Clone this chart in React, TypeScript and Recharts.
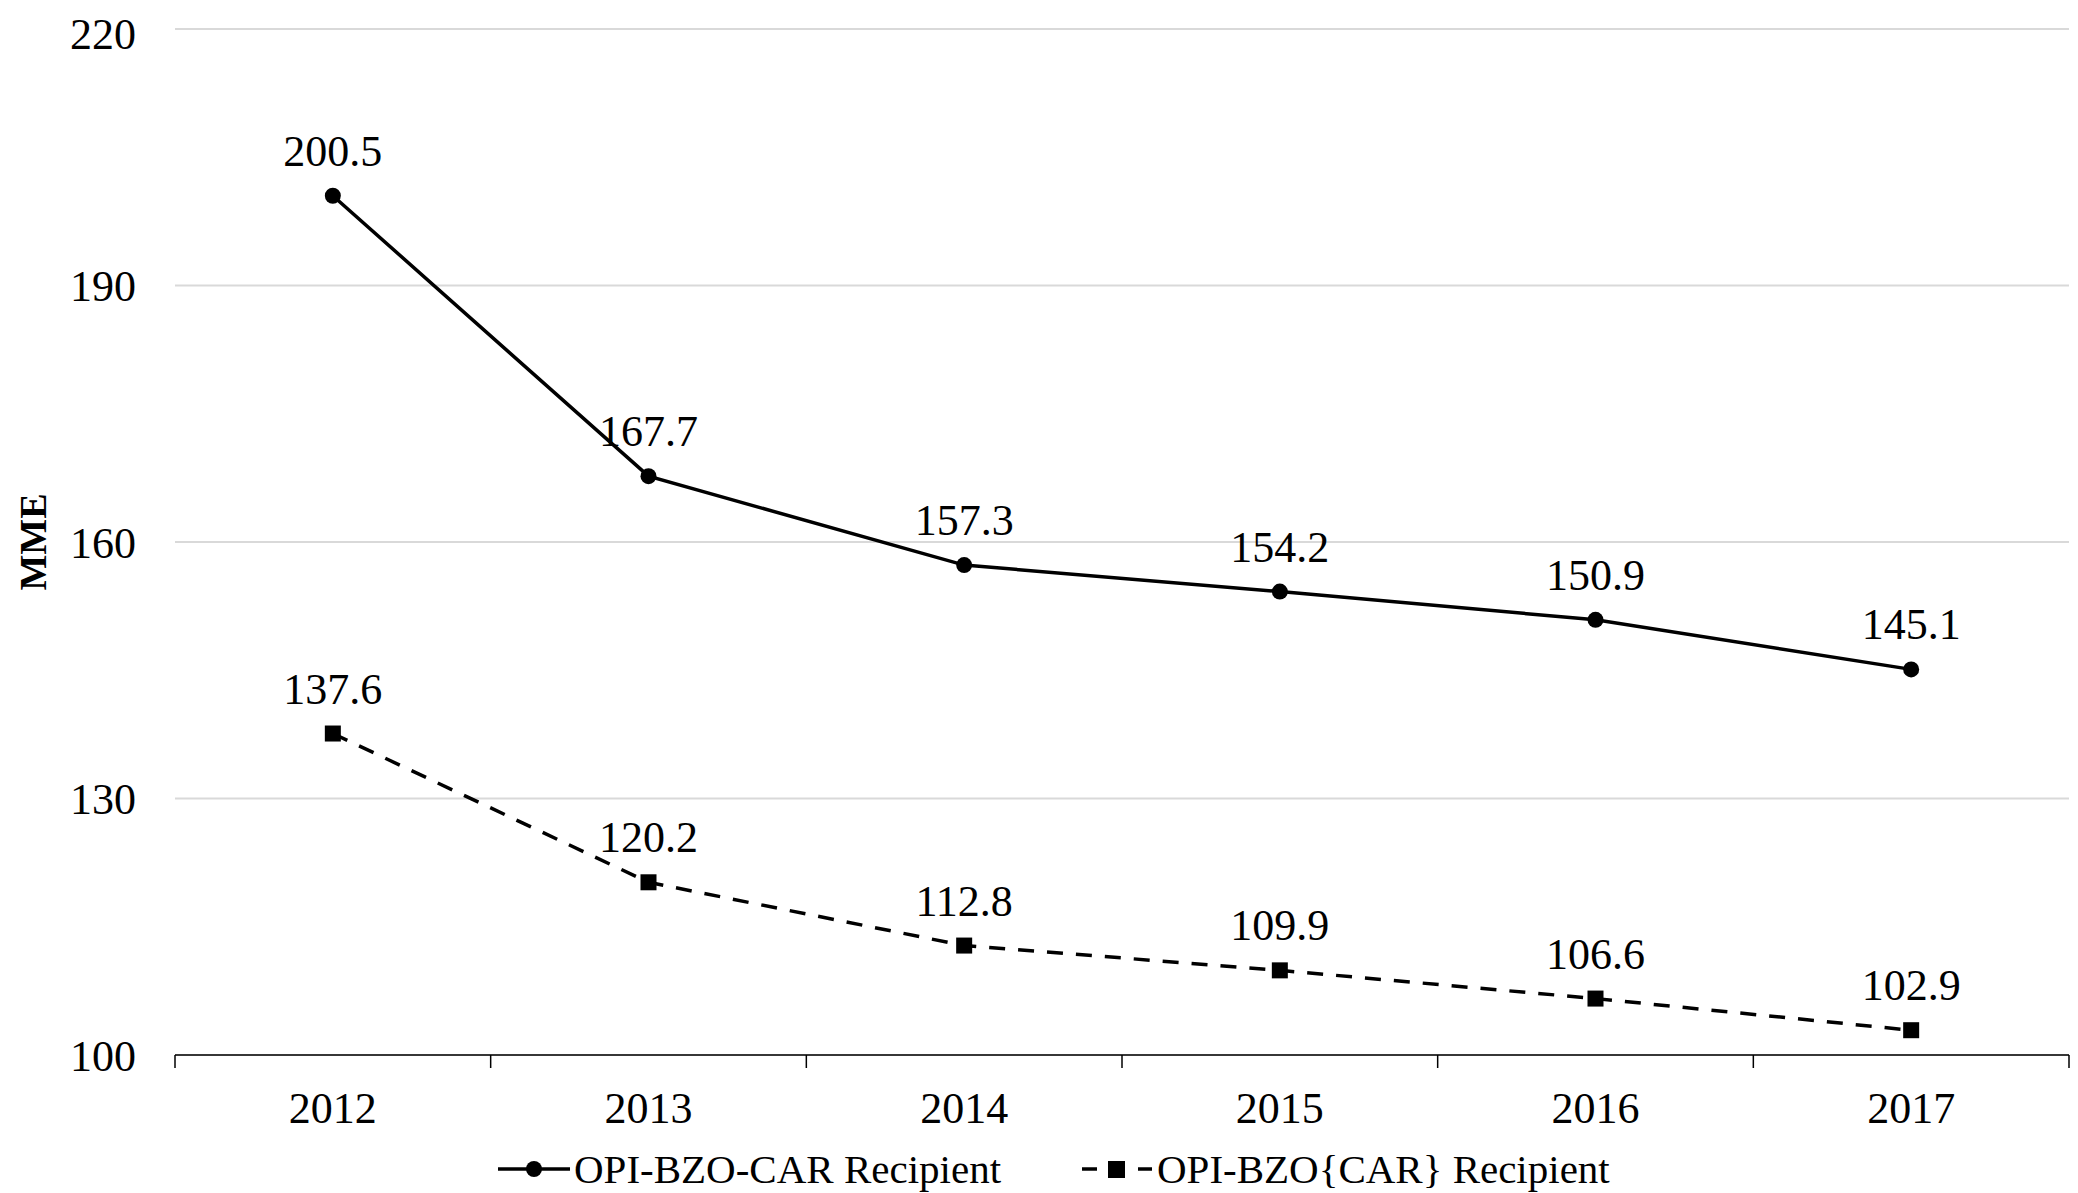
import { LineChart, Line, XAxis, YAxis, CartesianGrid, LabelList, Legend } from 'recharts'

// values
const years = ['2012', '2013', '2014', '2015', '2016', '2017']
const carRecipient = [200.5, 167.7, 157.3, 154.2, 150.9, 145.1]
const nonCarRecipient = [137.6, 120.2, 112.8, 109.9, 106.6, 102.9]
const yTicks = [100, 130, 160, 190, 220]

const seriesNames = ['OPI-BZO-CAR Recipient', 'OPI-BZO{CAR} Recipient']

const data = years.map((year, i) => ({
  year,
  car: carRecipient[i],
  nonCar: nonCarRecipient[i],
}))

const FONT = '"Liberation Serif", "DejaVu Serif", serif'
const NUM_SIZE = 44
const CHART_W = 2064
const CHART_H = 1185
const LEGEND_H = 48
const MARGIN = { top: 21, right: 3, left: 0, bottom: 0 }
const Y_AXIS_W = 167
const PLOT_W = CHART_W - MARGIN.left - MARGIN.right - Y_AXIS_W
const BAND = PLOT_W / years.length

function XTick(props: any) {
  const { x, y, payload, index } = props
  const half = BAND / 2
  return (
    <g>
      <line x1={x - half} x2={x - half} y1={y} y2={y + 13} stroke="#000" strokeWidth={1.5} />
      {index === years.length - 1 && (
        <line x1={x + half} x2={x + half} y1={y} y2={y + 13} stroke="#000" strokeWidth={1.5} />
      )}
      <text x={x} y={y + 53} textAnchor="middle" dominantBaseline="central" fontFamily={FONT} fontSize={NUM_SIZE} fill="#000">
        {payload.value}
      </text>
    </g>
  )
}

function SquareDot(props: any) {
  const { cx, cy } = props
  if (cx == null || cy == null) return null
  return <rect x={cx - 8} y={cy - 8} width={16} height={16} fill="#000" />
}

function CustomLegend() {
  const cy = 24
  return (
    <div style={{ width: CHART_W, height: LEGEND_H }}>
      <svg width={CHART_W} height={LEGEND_H} style={{ display: 'block' }}>
        <line x1={490} x2={562} y1={cy} y2={cy} stroke="#000" strokeWidth={3.5} />
        <circle cx={526} cy={cy} r={8} fill="#000" />
        <text x={566} y={cy} dominantBaseline="central" fontFamily={FONT} fontSize={41} fill="#000">
          {seriesNames[0]}
        </text>
        <line x1={1074} x2={1089} y1={cy} y2={cy} stroke="#000" strokeWidth={3.5} />
        <rect x={1100} y={cy - 8} width={17} height={17} fill="#000" />
        <line x1={1130} x2={1144} y1={cy} y2={cy} stroke="#000" strokeWidth={3.5} />
        <text x={1149} y={cy} dominantBaseline="central" fontFamily={FONT} fontSize={41} fill="#000">
          {seriesNames[1]}
        </text>
      </svg>
    </div>
  )
}

export default function App() {
  return (
    <div style={{ position: 'absolute', top: 8, left: 8, width: CHART_W, height: CHART_H, background: '#fff' }}>
      <LineChart width={CHART_W} height={CHART_H} data={data} margin={MARGIN}>
        <CartesianGrid horizontal vertical={false} stroke="#d9d9d9" strokeWidth={2} />
        <XAxis
          dataKey="year"
          scale="band"
          height={90}
          tickLine={false}
          tickSize={0}
          tickMargin={0}
          axisLine={{ stroke: '#000', strokeWidth: 1.5 }}
          tick={<XTick />}
          interval={0}
        />
        <YAxis
          width={Y_AXIS_W}
          domain={[100, 220]}
          ticks={yTicks}
          axisLine={false}
          tickLine={false}
          tickSize={0}
          tickMargin={39}
          tick={{ fill: '#000', fontSize: NUM_SIZE, fontFamily: FONT }}
          label={{
            content: () => (
              <text
                x={25}
                y={534}
                transform="rotate(-90 25 534)"
                textAnchor="middle"
                dominantBaseline="central"
                fontFamily={FONT}
                fontWeight="bold"
                fontSize={38}
                fill="#000"
              >
                MME
              </text>
            ),
          }}
        />
        <Legend verticalAlign="bottom" content={<CustomLegend />} />
        <Line
          dataKey="car"
          name={seriesNames[0]}
          stroke="#000"
          strokeWidth={3.5}
          dot={{ r: 8, fill: '#000', stroke: '#000', strokeWidth: 0 }}
          isAnimationActive={false}
        >
          <LabelList dataKey="car" position="top" offset={30} fill="#000" fontSize={NUM_SIZE} fontFamily={FONT} />
        </Line>
        <Line
          dataKey="nonCar"
          name={seriesNames[1]}
          stroke="#000"
          strokeWidth={3.5}
          strokeDasharray="16 13"
          dot={<SquareDot />}
          isAnimationActive={false}
        >
          <LabelList dataKey="nonCar" position="top" offset={30} fill="#000" fontSize={NUM_SIZE} fontFamily={FONT} />
        </Line>
      </LineChart>
    </div>
  )
}
